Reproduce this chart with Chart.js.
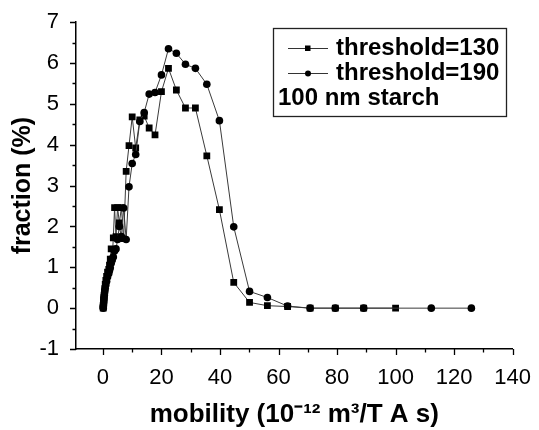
<!DOCTYPE html>
<html><head><meta charset="utf-8">
<script src="https://cdn.jsdelivr.net/npm/chart.js@4/dist/chart.umd.min.js"></script>
<style>html,body{margin:0;padding:0;background:#fff;}canvas{display:block;}</style>
</head><body>
<canvas id="c" width="539" height="430"></canvas>
<script>
// ---- data ----
const mobility130 = [0.10,0.13,0.16,0.20,0.25,0.32,0.40,0.50,0.63,0.79,1.00,1.26,1.58,2.00,2.24,2.51,2.82,3.16,3.55,3.98,4.47,5.01,5.62,6.31,7.08,7.94,8.91,10.0,11.2,12.6,14.1,15.8,17.8,20.0,22.4,25.1,28.2,31.6,35.5,39.8,44.7,50.1,56.2,63.1,70.8,79.4,89.1,100];
const fraction130 = [0.00,0.05,0.10,0.15,0.20,0.25,0.32,0.40,0.48,0.58,0.68,0.78,0.88,0.95,1.05,1.20,1.45,1.20,1.72,2.46,1.75,2.46,2.09,2.46,1.70,3.35,3.98,4.68,3.92,4.61,4.70,4.41,4.24,5.30,5.87,5.34,4.90,4.90,3.73,2.41,0.63,0.14,0.06,0.04,0.00,0.00,0.00,0.00];
const mobility190 = [0.10,0.13,0.16,0.20,0.25,0.32,0.40,0.50,0.63,0.79,1.00,1.26,1.58,2.00,2.24,2.51,2.82,3.16,3.55,3.98,4.47,5.01,5.62,6.31,7.08,7.94,8.91,10.0,11.2,12.6,14.1,15.8,17.8,20.0,22.4,25.1,28.2,31.6,35.5,39.8,44.7,50.1,56.2,63.1,70.8,79.4,89.1,112.2,125.9];
const fraction190 = [0.00,0.03,0.06,0.10,0.14,0.19,0.25,0.32,0.40,0.48,0.57,0.66,0.76,0.85,0.92,0.99,1.10,1.19,1.25,1.40,1.45,1.68,2.00,1.75,2.45,1.68,2.97,3.54,3.76,4.57,4.79,5.24,5.28,5.71,6.35,6.24,5.97,5.87,5.48,4.59,1.99,0.41,0.26,0.05,0.00,0.00,0.00,0.00,0.00];
const seriesLabels = ['threshold=130', 'threshold=190'];
const legendNote = '100 nm starch';
const xTickLabels = [0,20,40,60,80,100,120,140];
const yTickLabels = [-1,0,1,2,3,4,5,6,7];
const xTitle = 'mobility (10\u207B\u00B9\u00B2 m\u00B3/T A s)';
const yTitle = 'fraction (%)';

const FONT = '"Liberation Sans", Arial, sans-serif';
const toXY = (xs, ys) => xs.map((v, i) => ({x: v, y: ys[i]}));

const minorOf = arr => arr.slice(0, -1).map((v, i) => (v + arr[i + 1]) / 2);

const tickPlugin = {
  id: 'ticks',
  afterDraw(chart) {
    const {ctx, scales: {x, y}, chartArea: a} = chart;
    ctx.save();
    ctx.strokeStyle = '#000';
    ctx.lineWidth = 1.3;
    ctx.beginPath();
    xTickLabels.forEach(v => { const p = Math.round(x.getPixelForValue(v)) + 0.5; ctx.moveTo(p, a.bottom); ctx.lineTo(p, a.bottom + 6); });
    minorOf(xTickLabels).forEach(v => { const p = Math.round(x.getPixelForValue(v)) + 0.5; ctx.moveTo(p, a.bottom); ctx.lineTo(p, a.bottom + 3.5); });
    yTickLabels.forEach(v => { const p = Math.round(y.getPixelForValue(v)) + 0.5; ctx.moveTo(a.left, p); ctx.lineTo(a.left - 6, p); });
    minorOf(yTickLabels).forEach(v => { const p = Math.round(y.getPixelForValue(v)) + 0.5; ctx.moveTo(a.left, p); ctx.lineTo(a.left - 3.5, p); });
    ctx.stroke();
    ctx.restore();
  }
};

const legendPlugin = {
  id: 'boxLegend',
  afterDraw(chart) {
    const {ctx} = chart;
    ctx.save();
    ctx.strokeStyle = '#222';
    ctx.lineWidth = 1.3;
    ctx.strokeRect(273.5, 28.5, 233, 88);
    ctx.font = 'bold 24px ' + FONT;
    ctx.fillStyle = '#000';
    ctx.textBaseline = 'alphabetic';
    const rows = [{b: 55, cy: 48}, {b: 80, cy: 73}];
    chart.data.datasets.forEach((ds, i) => {
      const r = rows[i];
      ctx.strokeStyle = '#333'; ctx.lineWidth = 1;
      ctx.beginPath(); ctx.moveTo(288, r.cy + 0.5); ctx.lineTo(328, r.cy + 0.5); ctx.stroke();
      ctx.fillStyle = '#000';
      if (ds.pointStyle === 'rect') { ctx.fillRect(305, r.cy - 2.5, 5.5, 5.5); }
      else { ctx.beginPath(); ctx.arc(308, r.cy + 0.5, 3, 0, Math.PI * 2); ctx.fill(); }
      ctx.fillText(ds.label, 336, r.b);
    });
    ctx.fillText(legendNote, 278, 105);
    ctx.restore();
  }
};

new Chart(document.getElementById('c'), {
  type: 'line',
  data: {
    datasets: [
      {label: seriesLabels[0], data: toXY(mobility130, fraction130), order: 2,
       borderColor: '#3a3a3a', borderWidth: 1, pointStyle: 'rect', pointRadius: 4.8,
       pointBackgroundColor: '#000', pointBorderColor: '#000', pointBorderWidth: 0, tension: 0},
      {label: seriesLabels[1], data: toXY(mobility190, fraction190), order: 1,
       borderColor: '#3a3a3a', borderWidth: 1, pointStyle: 'circle', pointRadius: 3.8,
       pointBackgroundColor: '#000', pointBorderColor: '#000', pointBorderWidth: 0, tension: 0}
    ]
  },
  options: {
    responsive: false,
    animation: false,
    events: [],
    layout: {padding: {top: 21, right: 21, left: 0, bottom: 0}},
    plugins: {legend: {display: false}, tooltip: {enabled: false}},
    scales: {
      x: {
        type: 'linear', min: -9.2, max: 140,
        afterBuildTicks: s => { s.ticks = xTickLabels.map(v => ({value: v})); },
        afterFit: s => { s.height = 81; },
        grid: {display: false},
        border: {display: true, color: '#000', width: 1.5},
        ticks: {color: '#000', padding: 8, font: {family: FONT, size: 22}, maxRotation: 0, autoSkip: false},
        title: {display: true, text: xTitle, color: '#000', padding: 0, font: {family: FONT, size: 26, weight: 'bold'}}
      },
      y: {
        type: 'linear', min: -1, max: 7,
        afterBuildTicks: s => { s.ticks = yTickLabels.map(v => ({value: v})); },
        afterFit: s => { s.width = 76; },
        grid: {display: false},
        border: {display: true, color: '#000', width: 1.5},
        ticks: {color: '#000', padding: 9, font: {family: FONT, size: 22}, autoSkip: false},
        title: {display: true, text: yTitle, color: '#000', padding: {top: 8}, font: {family: FONT, size: 25, weight: 'bold'}}
      }
    }
  },
  plugins: [tickPlugin, legendPlugin]
});
</script>
</body></html>
